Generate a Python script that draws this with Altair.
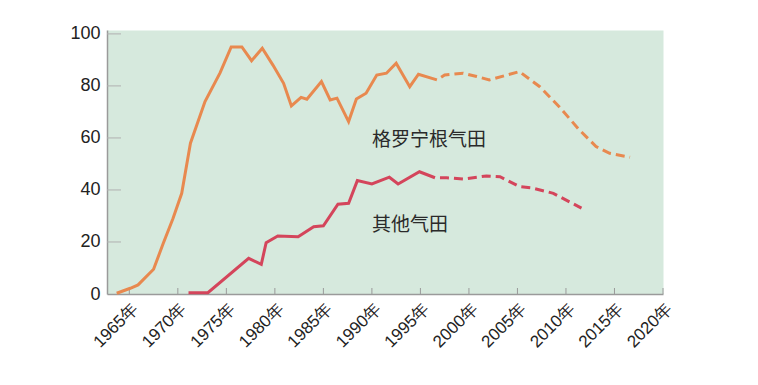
import altair as alt
import pandas as pd

# Groningen field (solid = historical, dashed = projection)
gron_years = [1963.7, 1965.1, 1965.9, 1967.5, 1968.5, 1969.5, 1970.4, 1971.3, 1972.8, 1974.35,
              1975.5, 1976.6, 1977.6, 1978.7, 1979.8, 1980.9, 1981.7, 1982.7, 1983.3, 1984.8,
              1985.7, 1986.4, 1987.6, 1988.4, 1989.4, 1990.5, 1991.5, 1992.5, 1993.9, 1994.8, 1996.7]
gron_values = [0.3, 2.2, 3.5, 9.5, 19.5, 29, 38.7, 58, 74, 85,
               95, 95, 89.7, 94.5, 88, 81, 72.3, 75.6, 74.9, 81.7,
               74.6, 75.3, 66.3, 75, 77.2, 84.2, 84.9, 88.7, 79.7, 84.5, 82.3]
gron_proj_years = [1996.7, 1997.5, 1999.4, 2000.8, 2002.1, 2005.2, 2007.3, 2009.3, 2011.4, 2013.1, 2014.5, 2016.6]
gron_proj_values = [82.3, 84.2, 84.9, 83.6, 82.3, 85.5, 79.7, 72, 63, 56.7, 54.1, 52.6]

# Other fields
other_years = [1971.1, 1973.1, 1977.3, 1978.6, 1979.1, 1980.3, 1982.4, 1984.0, 1985.0, 1986.5,
               1987.6, 1988.5, 1990.0, 1991.8, 1992.7, 1994.9, 1996.5]
other_values = [0.5, 0.5, 13.7, 11.4, 19.7, 22.3, 22, 25.9, 26.2, 34.5,
                34.9, 43.6, 42.3, 44.9, 42.3, 47, 44.7]
other_proj_years = [1996.5, 1997.7, 1999.4, 2001.8, 2003.2, 2005.2, 2006.6, 2008.7, 2011.6]
other_proj_values = [44.7, 44.7, 44.2, 45.4, 45.1, 41.3, 40.7, 38.7, 33]

# Labels
label_texts = ["格罗宁根气田", "其他气田"]
label_x = [1990.0, 1990.0]
label_y = [59.2, 26.5]

x_ticks = [1965, 1970, 1975, 1980, 1985, 1990, 1995, 2000, 2005, 2010, 2015, 2020]
y_ticks = [0, 20, 40, 60, 80, 100]

ORANGE = "#e8894f"
RED = "#d4455b"
W, H = 556, 264

xs = alt.Scale(domain=[1962.7, 2020], nice=False, zero=False)
ys = alt.Scale(domain=[0, 101.5], nice=False)

x_axis = alt.Axis(values=x_ticks, labelExpr="datum.value + '年'", labelAngle=-45,
                  labelAlign="right", labelBaseline="top", labelFontSize=17,
                  labelPadding=6, labelColor="#222", labelFont="Liberation Sans",
                  ticks=False, grid=False, domainColor="#9a9a9a", domainWidth=1.5, title=None,
                  labelOverlap=False)
y_axis = alt.Axis(values=y_ticks, labelFontSize=18, labelColor="#222", labelFont="Liberation Sans",
                  labelPadding=7, ticks=False, grid=False, domainColor="#9a9a9a",
                  domainWidth=1.5, title=None)


def line(years, values, color, dashed=False):
    df = pd.DataFrame({"year": years, "value": values})
    kw = dict(color=color, strokeWidth=3)
    if dashed:
        kw.update(strokeDash=[9, 5], strokeDashOffset=9)
    return alt.Chart(df).mark_line(**kw).encode(
        x=alt.X("year:Q", scale=xs, axis=x_axis),
        y=alt.Y("value:Q", scale=ys, axis=y_axis),
    )


ytick_df = pd.DataFrame({"v": y_ticks[1:]})
ytick_layer = alt.Chart(ytick_df).mark_rule(color="#b0b0b0", strokeWidth=1).encode(
    y=alt.Y("v:Q", scale=ys), x=alt.value(0), x2=alt.value(14))

xtick_df = pd.DataFrame({"t": x_ticks})
xtick_layer = alt.Chart(xtick_df).mark_rule(color="#9a9a9a", strokeWidth=1).encode(
    x=alt.X("t:Q", scale=xs), y=alt.value(H), y2=alt.value(H - 6))

lab_df = pd.DataFrame({"x": label_x, "y": label_y, "t": label_texts})
labels = alt.Chart(lab_df).mark_text(align="left", baseline="middle", fontSize=19,
                                     font="Noto Sans CJK SC", color="#2a2a2a").encode(
    x=alt.X("x:Q", scale=xs), y=alt.Y("y:Q", scale=ys), text="t:N")

chart = alt.layer(
    ytick_layer, xtick_layer,
    line(gron_years, gron_values, ORANGE),
    line(gron_proj_years, gron_proj_values, ORANGE, dashed=True),
    line(other_years, other_values, RED),
    line(other_proj_years, other_proj_values, RED, dashed=True),
    labels,
).properties(
    width=W, height=H,
    background="white",
    autosize=alt.AutoSizeParams(type="none"),
    padding={"left": 99, "top": 22, "right": 60, "bottom": 70},
).configure_view(fill="#d6e9dd", stroke="transparent")

chart.save("out.html", embed_options={"renderer": "svg", "actions": False})
